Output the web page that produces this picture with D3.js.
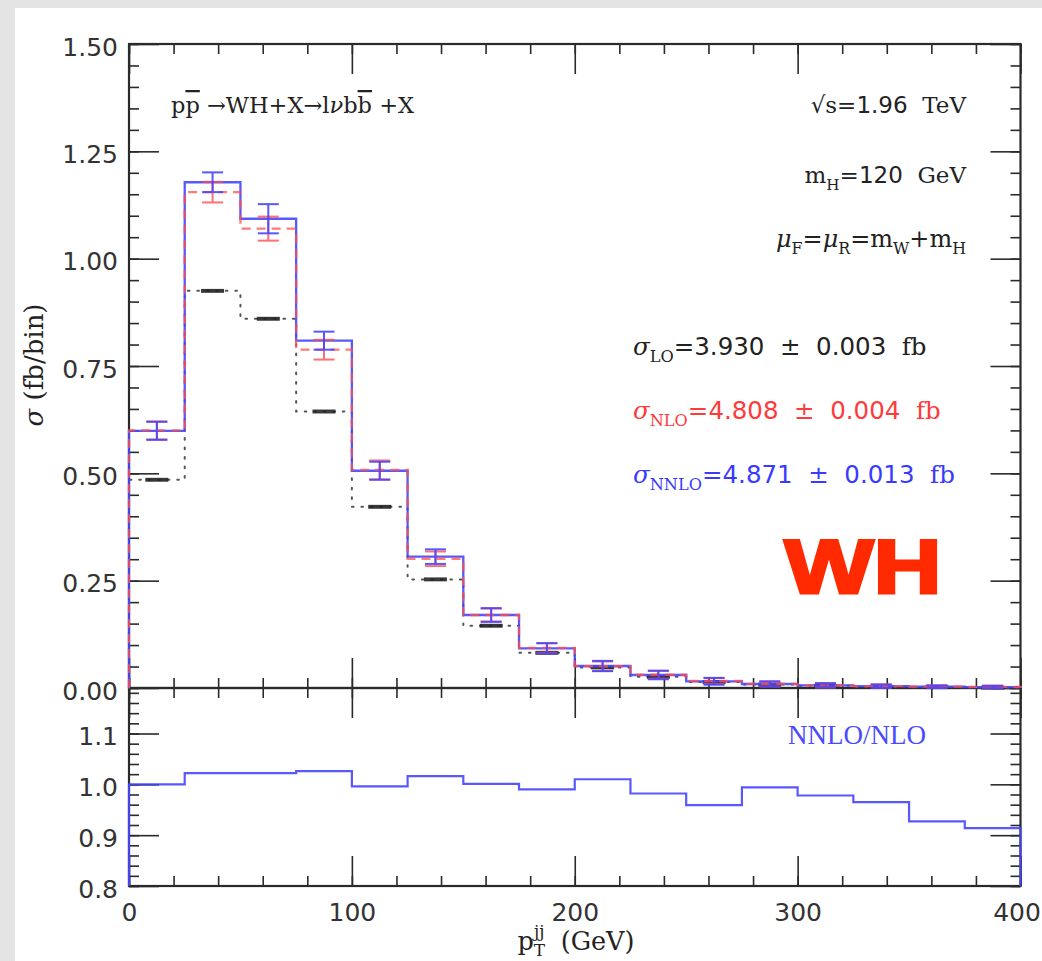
<!DOCTYPE html>
<html><head><meta charset="utf-8">
<script src="https://cdn.jsdelivr.net/npm/d3@7"></script>
<style>html,body{margin:0;padding:0;background:#e4e4e4;} svg{display:block}</style>
</head><body>
<svg id="c" width="1042" height="961"></svg>
<script>
// ---------- data ----------
const binStart = [0,25,50,75,100,125,150,175,200,225,250,275,300,325,350,375];
const binEnd   = [25,50,75,100,125,150,175,200,225,250,275,300,325,350,375,400];
const nnlo    = [0.599,1.178,1.093,0.809,0.506,0.306,0.170,0.0924,0.0512,0.0303,0.0156,0.0093,0.0062,0.0042,0.0030,0.0022];
const nnloErr = [0.021,0.023,0.034,0.021,0.021,0.017,0.016,0.012,0.012,0.010,0.008,0.006,0.005,0.004,0.003,0.003];
const nlo     = [0.600,1.155,1.070,0.788,0.508,0.301,0.170,0.0933,0.0507,0.0309,0.0163,0.0094,0.0063,0.0044,0.0032,0.0024];
const nloErr  = [0.021,0.024,0.028,0.023,0.022,0.017,0.015,0.011,0.011,0.009,0.007,0.006,0.005,0.004,0.003,0.003];
const lo      = [0.485,0.925,0.860,0.644,0.422,0.253,0.145,0.082,0.048,0.026,0.014,0.008,0.005,0.003,0.002,0.001];
const loErr   = [0.002,0.002,0.002,0.002,0.002,0.002,0.002,0.002,0.002,0.002,0.002,0.002,0.002,0.002,0.002,0.002];
const ratio   = [1.000,1.022,1.022,1.026,0.996,1.016,1.001,0.990,1.010,0.982,0.959,0.994,0.978,0.965,0.927,0.914];

const xMajor = [0,100,200,300,400];
const yMainMajor = [0,0.25,0.5,0.75,1.0,1.25,1.5];
const yRatioMajor = [0.8,0.9,1.0,1.1];

// ---------- layout ----------
const SANS = "'DejaVu Sans', sans-serif";
const SERIF = "'DejaVu Serif', 'Liberation Serif', serif";
const BLUE = "#4646ff", RED = "#ff4d4d", INK = "#2a2a2a";
const svg = d3.select('#c');
svg.append('rect').attr('x',15).attr('y',8).attr('width',1042-15).attr('height',961-8).attr('fill','#fff');

const x = d3.scaleLinear().domain([0,400]).range([129,1020.5]);
const y = d3.scaleLinear().domain([0,1.5]).range([688,44]);
const yR = d3.scaleLinear().domain([0.8,1.1]).range([886,733.5]);
const yRtop = yR.invert(688);

const xMinor = d3.range(0,401,20);
const yMainMinor = d3.range(0,1.5001,0.05);
const yRatioMinor = d3.range(0.8,yRtop,0.02);

function axisLayer(axisFn, scale, minor, major, tx, ty, labels, fmt, pad) {
  const g = svg.append('g').attr('transform',`translate(${tx},${ty})`);
  g.append('g').call(axisFn(scale).tickValues(minor).tickSizeInner(-10).tickSizeOuter(0).tickFormat(''));
  const gm = g.append('g').call(axisFn(scale).tickValues(major).tickSizeInner(-30).tickSizeOuter(0)
      .tickPadding(pad||0).tickFormat(labels ? fmt : ''));
  g.selectAll('.domain').remove();
  g.selectAll('line').attr('stroke',INK).attr('stroke-width',1.6);
  gm.selectAll('text').attr('font-family',SANS).attr('font-size',25).attr('fill','#333');
  return gm;
}
// main panel
const lm = axisLayer(d3.axisLeft, y, yMainMinor, yMainMajor, 129, 0, true, d3.format('.2f'), 11);
lm.selectAll('text').attr('dy','0.45em');
axisLayer(d3.axisRight, y, yMainMinor, yMainMajor, 1020.5, 0, false);
axisLayer(d3.axisTop, x, xMinor, xMajor, 0, 44, false);
axisLayer(d3.axisBottom, x, xMinor, xMajor, 0, 688, false);
// ratio panel
const lr = axisLayer(d3.axisLeft, yR, yRatioMinor, yRatioMajor, 129, 0, true, d3.format('.1f'), 11);
lr.selectAll('text').attr('dy','0.45em');
axisLayer(d3.axisRight, yR, yRatioMinor, yRatioMajor, 1020.5, 0, false);
axisLayer(d3.axisTop, x, xMinor, xMajor, 0, 688, false);
const bx = axisLayer(d3.axisBottom, x, xMinor, xMajor, 0, 886, true, d3.format('d'), 17);
bx.selectAll('text').filter(d => d === 400).attr('dx', -4);

// frames
svg.append('rect').attr('x',x(0)).attr('y',y(1.5)).attr('width',x(400)-x(0)).attr('height',y(0)-y(1.5))
  .attr('fill','none').attr('stroke',INK).attr('stroke-width',2.2);
svg.append('rect').attr('x',x(0)).attr('y',688).attr('width',x(400)-x(0)).attr('height',886-688)
  .attr('fill','none').attr('stroke',INK).attr('stroke-width',2.2);

// ---------- histograms ----------
function stepPts(vals, base) {
  const pts = [[binStart[0], base]];
  vals.forEach((v,i) => { pts.push([binStart[i], v]); pts.push([binEnd[i], v]); });
  pts.push([binEnd[binEnd.length-1], base]);
  return pts;
}
function drawStep(vals, ys, base, attrs) {
  const line = d3.line().x(d => x(d[0])).y(d => ys(d[1]));
  const p = svg.append('path').attr('d', line(stepPts(vals, base))).attr('fill','none');
  Object.entries(attrs).forEach(([k,v]) => p.attr(k,v));
  return p;
}
function drawErr(vals, errs, color, w, sw, op) {
  const g = svg.append('g').attr('stroke',color).attr('stroke-width',sw).attr('opacity',op);
  vals.forEach((v,i) => {
    const cx = x((binStart[i]+binEnd[i])/2);
    const y1 = y(v+errs[i]), y2 = y(v-errs[i]);
    g.append('line').attr('x1',cx).attr('x2',cx).attr('y1',y1).attr('y2',y2);
    g.append('line').attr('x1',cx-w/2).attr('x2',cx+w/2).attr('y1',y1).attr('y2',y1);
    g.append('line').attr('x1',cx-w/2).attr('x2',cx+w/2).attr('y1',y2).attr('y2',y2);
  });
}
drawStep(lo, y, 0, {stroke:'#555', 'stroke-width':2, 'stroke-dasharray':'1.6,7.9', 'stroke-linecap':'round'});
drawErr(lo, loErr, '#222', 23, 2.2, 0.9);
drawStep(nnlo, y, 0, {stroke:BLUE, 'stroke-width':2.3, opacity:0.9});
drawStep(nlo, y, 0, {stroke:RED, 'stroke-width':2.3, 'stroke-dasharray':'9,6', opacity:0.75});
drawErr(nlo, nloErr, RED, 21, 2, 0.8);
drawErr(nnlo, nnloErr, BLUE, 21, 2, 0.9);
drawStep(ratio, yR, 0.8, {stroke:BLUE, 'stroke-width':2.2, opacity:0.9});

// ---------- text ----------
function rich(x0, y0, parts, size, anchor, fill, extra) {
  const t = svg.append('text').attr('x',x0).attr('y',y0).attr('text-anchor',anchor||'start')
    .attr('fill',fill||'#222').attr('font-size',size).attr('xml:space','preserve').style('white-space','pre');
  if (extra) Object.entries(extra).forEach(([k,v]) => t.attr(k,v));
  let cur = 0;
  parts.forEach(p => {
    const shift = p.sub ? size*(p.sh||0.3) : p.sup ? -size*0.5 : 0;
    const s = t.append('tspan').attr('dy', shift - cur).text(p.t);
    if (p.dx) s.attr('dx', p.dx);
    cur = shift;
    s.attr('font-family', p.sans ? SANS : SERIF);
    if (p.sub || p.sup) s.attr('font-size', size*(p.ss||0.66));
    if (p.it) s.attr('font-style','italic');
    if (p.over) s.attr('text-decoration','overline');
  });
  return t;
}
function mix(str) { // digits in sans, letters in serif
  return str.split(/([0-9.]+)/).filter(s => s.length).map(s => ({t:s, sans:/^[0-9.]+$/.test(s)}));
}
rich(171, 113, [{t:'p'},{t:'p',over:true},{t:' →WH+X→l'},{t:'ν',it:true},{t:'b'},{t:'b',over:true},{t:' +X'}], 22.5);
rich(966, 113, [{t:'√s='}].concat(mix('1.96  TeV')), 23, 'end');
rich(966, 183, [{t:'m'},{t:'H',sub:true},{t:'='}].concat(mix('120  GeV')), 23, 'end');
rich(966, 247, [{t:'μ',it:true},{t:'F',sub:true},{t:'='},{t:'μ',it:true},{t:'R',sub:true},{t:'=m'},{t:'W',sub:true},{t:'+m'},{t:'H',sub:true}], 24, 'end');

rich(633, 355, [{t:'σ',it:true},{t:'LO',sub:true}, {t:'='}].concat(mix('3.930  ±  0.003  fb')), 24.5, 'start', '#222');
rich(633, 419, [{t:'σ',it:true},{t:'NLO',sub:true}, {t:'='}].concat(mix('4.808  ±  0.004  fb')), 24.5, 'start', '#ff3a3a');
rich(633, 483, [{t:'σ',it:true},{t:'NNLO',sub:true}, {t:'='}].concat(mix('4.871  ±  0.013  fb')), 24.5, 'start', '#3a3aff');

svg.append('text').attr('x',784.5).attr('y',593).attr('font-family',"'Liberation Sans', Arial, sans-serif")
  .attr('font-weight','bold').attr('font-size',76).attr('fill','#ff2a00').attr('stroke','#ff2a00').attr('stroke-width',3)
  .attr('textLength',157).attr('lengthAdjust','spacingAndGlyphs').text('WH');

svg.append('text').attr('x',788).attr('y',744).attr('font-family',"'Liberation Serif', serif").attr('font-size',27)
  .attr('fill','#4a4aff').text('NNLO/NLO');

// axis titles
rich(0, 0, [{t:'σ',it:true},{t:' (fb/bin)'}], 26, 'middle', '#222', {transform:'translate(43,365) rotate(-90)'});
rich(576, 950, [{t:'p'},{t:'T',sub:true,sh:0.22},{t:'jj',sup:true,dx:-11},{t:'  (GeV)'}], 25.5, 'middle', '#222');
</script>
</body></html>
